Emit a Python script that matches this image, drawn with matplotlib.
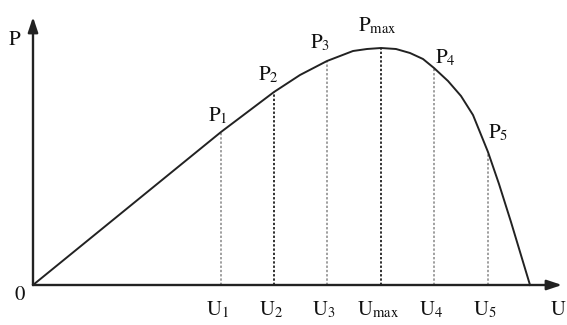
import numpy as np
import matplotlib
matplotlib.use("Agg")
import matplotlib.pyplot as plt

plt.rcParams['mathtext.fontset'] = 'stix'
plt.rcParams['font.family'] = ['Liberation Serif', 'DejaVu Serif']

# Curve P(U) (arbitrary units)
U_curve = [0, 188, 241, 267, 294, 320, 334, 348, 363, 377, 390, 401, 415, 428, 440, 455, 466, 478, 497]
P_curve = [0, 153, 193, 210, 224, 234, 236, 237, 236, 232, 226, 217, 204, 189, 170, 133, 101, 63, 0]

# Marked operating points
U_marks = [188, 241, 294, 348, 401, 455]
P_marks = [153, 193, 224, 237, 217, 133]
U_labels = [r'$\mathrm{U}_{1}$', r'$\mathrm{U}_{2}$', r'$\mathrm{U}_{3}$',
            r'$\mathrm{U}_{\mathrm{max}}$', r'$\mathrm{U}_{4}$', r'$\mathrm{U}_{5}$']
P_labels = [r'$\mathrm{P}_{1}$', r'$\mathrm{P}_{2}$', r'$\mathrm{P}_{3}$',
            r'$\mathrm{P}_{\mathrm{max}}$', r'$\mathrm{P}_{4}$', r'$\mathrm{P}_{5}$']
line_colors = ['#a0a0a0', '#303030', '#a0a0a0', '#303030', '#a0a0a0', '#a0a0a0']
P_offsets = [(-13, 11), (-16, 12), (-17, 13), (-23, 17), (1, 5), (0, 14)]

fig = plt.figure(figsize=(5.67, 3.25), dpi=100)
ax = fig.add_axes([0, 0, 1, 1])
ax.set_xlim(-33, 534)
ax.set_ylim(-40, 285)
ax.axis('off')

# dotted verticals
for u, p, c in zip(U_marks, P_marks, line_colors):
    ax.plot([u, u], [0, p], color=c, lw=1.4, ls=(0, (1.2, 1.0)), zorder=1)

# curve
ax.plot(U_curve, P_curve, color='#222222', lw=1.4, zorder=3, solid_joinstyle='round')

# axes with arrows
ax.annotate('', xy=(529, 0), xytext=(0, 0),
            arrowprops=dict(arrowstyle='-|>,head_length=0.9,head_width=0.3',
                            color='#222222', lw=1.7, shrinkA=0, shrinkB=0))
ax.annotate('', xy=(0, 268), xytext=(0, 0),
            arrowprops=dict(arrowstyle='-|>,head_length=0.9,head_width=0.3',
                            color='#222222', lw=1.7, shrinkA=0, shrinkB=0))

# labels
for u, p, lab, (dx, dy) in zip(U_marks, P_marks, P_labels, P_offsets):
    ax.annotate(lab, xy=(u, p), xytext=(dx, dy), textcoords='offset pixels',
                ha='left', va='baseline', fontsize=15, color='#111111')
for u, lab in zip(U_marks, U_labels):
    ax.annotate(lab, xy=(u, 0), xytext=(-3, -30), textcoords='offset pixels',
                ha='center', va='baseline', fontsize=15, color='#111111')

ax.annotate(r'$\mathrm{P}$', xy=(0, 0), xytext=(-25, 240), textcoords='offset pixels',
            ha='left', va='baseline', fontsize=15, color='#111111')
ax.annotate(r'$\mathrm{U}$', xy=(0, 0), xytext=(517, -30), textcoords='offset pixels',
            ha='left', va='baseline', fontsize=15, color='#111111')
ax.annotate(r'$\mathrm{0}$', xy=(0, 0), xytext=(-13, -10), textcoords='offset pixels',
            ha='center', va='center', fontsize=15, color='#111111')

fig.savefig('out.png', dpi=100)
